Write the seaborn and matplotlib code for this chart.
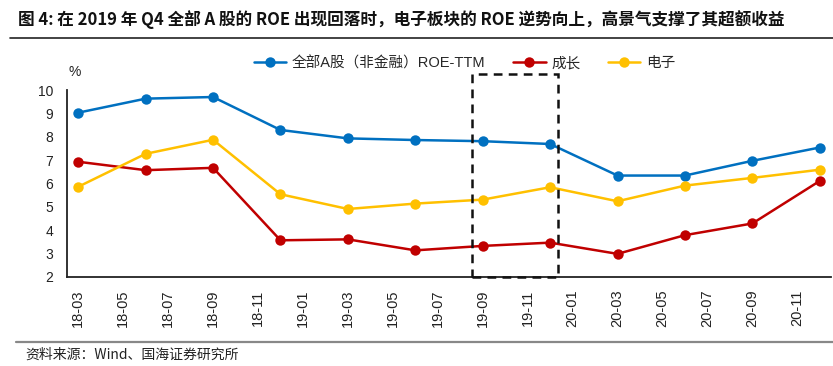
import numpy as np
import pandas as pd
import matplotlib
matplotlib.use("Agg")
import matplotlib.pyplot as plt
import seaborn as sns
from matplotlib.patches import Rectangle
from matplotlib.lines import Line2D

# ---------------- data ----------------
dates = ["18-03", "18-06", "18-09", "18-12", "19-03", "19-06",
         "19-09", "19-12", "20-03", "20-06", "20-09", "20-12"]
roe_all = [9.03, 9.63, 9.70, 8.29, 7.93, 7.86, 7.81, 7.69, 6.34, 6.34, 6.97, 7.54]
roe_growth = [6.93, 6.57, 6.67, 3.57, 3.61, 3.14, 3.33, 3.47, 2.99, 3.79, 4.29, 6.11]
roe_elec = [5.86, 7.27, 7.87, 5.54, 4.91, 5.14, 5.31, 5.84, 5.24, 5.91, 6.24, 6.59]
series_names = ["全部A股（非金融）ROE-TTM", "成长", "电子"]
month_labels = ["18-03", "18-05", "18-07", "18-09", "18-11", "19-01", "19-03", "19-05",
                "19-07", "19-09", "19-11", "20-01", "20-03", "20-05", "20-07", "20-09", "20-11"]
y_ticks = [2, 3, 4, 5, 6, 7, 8, 9, 10]
highlight = ("19-09", "19-12")

title = "图 4: 在 2019 年 Q4 全部 A 股的 ROE 出现回落时，电子板块的 ROE 逆势向上，高景气支撑了其超额收益"
source = "资料来源：Wind、国海证券研究所"
unit = "%"

colors = ["#0070C0", "#C00000", "#FFC000"]


def midx(s):
    y, m = s.split("-")
    return (int(y) - 18) * 12 + int(m) - 3


# ---------------- style ----------------
sns.set_style("white")
plt.rcParams["font.family"] = ["Liberation Sans", "Noto Sans CJK SC", "DejaVu Sans"]

df = pd.DataFrame({
    "x": [midx(d) for d in dates] * 3,
    "value": roe_all + roe_growth + roe_elec,
    "series": [series_names[0]] * len(dates) + [series_names[1]] * len(dates) + [series_names[2]] * len(dates),
})

fig = plt.figure(figsize=(8.33, 3.66), dpi=100)
ax = fig.add_axes([67 / 833, 1 - 277 / 366, (831 - 67) / 833, (277 - 90) / 366])

sns.lineplot(data=df, x="x", y="value", hue="series", hue_order=series_names,
             palette=colors, marker="o", markersize=7.5, markeredgewidth=0,
             linewidth=1.8, legend=False, ax=ax)

n_months = midx("20-12") + 1
ax.set_xlim(-0.5, n_months - 0.5)
ax.set_ylim(y_ticks[0], y_ticks[-1])
ax.set_yticks(y_ticks)
ax.set_yticklabels([str(v) for v in y_ticks])

# major ticks at boundaries (no labels), minor ticks carry labels
ax.set_xticks(np.arange(-0.5, n_months, 2))
ax.set_xticklabels([])
ax.set_xticks([midx(m) for m in month_labels], minor=True)
ax.set_xticklabels(month_labels, minor=True, rotation=90)
ax.tick_params(axis="x", which="major", length=4, width=1.2, direction="out", color="#222222")
ax.tick_params(axis="x", which="minor", length=0, pad=9, labelsize=10.5, labelcolor="#222222")
ax.tick_params(axis="y", length=4, width=1.2, direction="out", pad=6, labelsize=10,
               color="#222222", labelcolor="#222222")
ax.set_xlabel("")
ax.set_ylabel("")

for side in ["top", "right"]:
    ax.spines[side].set_visible(False)
for side in ["left", "bottom"]:
    ax.spines[side].set_color("#222222")
    ax.spines[side].set_linewidth(1.3)

# dashed highlight box
x0 = midx(highlight[0]) - 0.46
x1 = midx(highlight[1]) + 0.35
rect = Rectangle((x0, y_ticks[0]), x1 - x0, 10.69 - y_ticks[0], fill=False,
                 edgecolor="#111111", linestyle=(0, (3.5, 2.5)), linewidth=1.8,
                 clip_on=False, zorder=5)
ax.add_patch(rect)

# legend
handles = [Line2D([0], [0], color=c, lw=1.8, marker="o", markersize=7.5, markeredgewidth=0)
           for c in colors]
fig.legend(handles, series_names, loc="center", bbox_to_anchor=(0.558, 1 - 63 / 366),
           ncol=3, frameon=False, fontsize=10.5, handlelength=2.2, handletextpad=0.4,
           columnspacing=1.9)

fig.text(75 / 833, 1 - 72 / 366, unit, ha="center", va="center", fontsize=10, color="#222222")

# title, rules, source
fig.text(18 / 833, 1 - 20 / 366, title, ha="left", va="center", fontsize=12,
         fontweight="bold", family=["Noto Sans CJK SC", "DejaVu Sans"], color="#111111")
fig.add_artist(Line2D([10 / 833, 1.0], [1 - 37.5 / 366] * 2, color="#222222", lw=1.2))
fig.add_artist(Line2D([16 / 833, 1.0], [1 - 341.5 / 366] * 2, color="#888888", lw=1.6))
fig.text(25 / 833, 1 - 355 / 366, source, ha="left", va="center", fontsize=10,
         family=["Noto Sans CJK SC", "DejaVu Sans"], color="#222222")

fig.savefig("out.png", dpi=100)
